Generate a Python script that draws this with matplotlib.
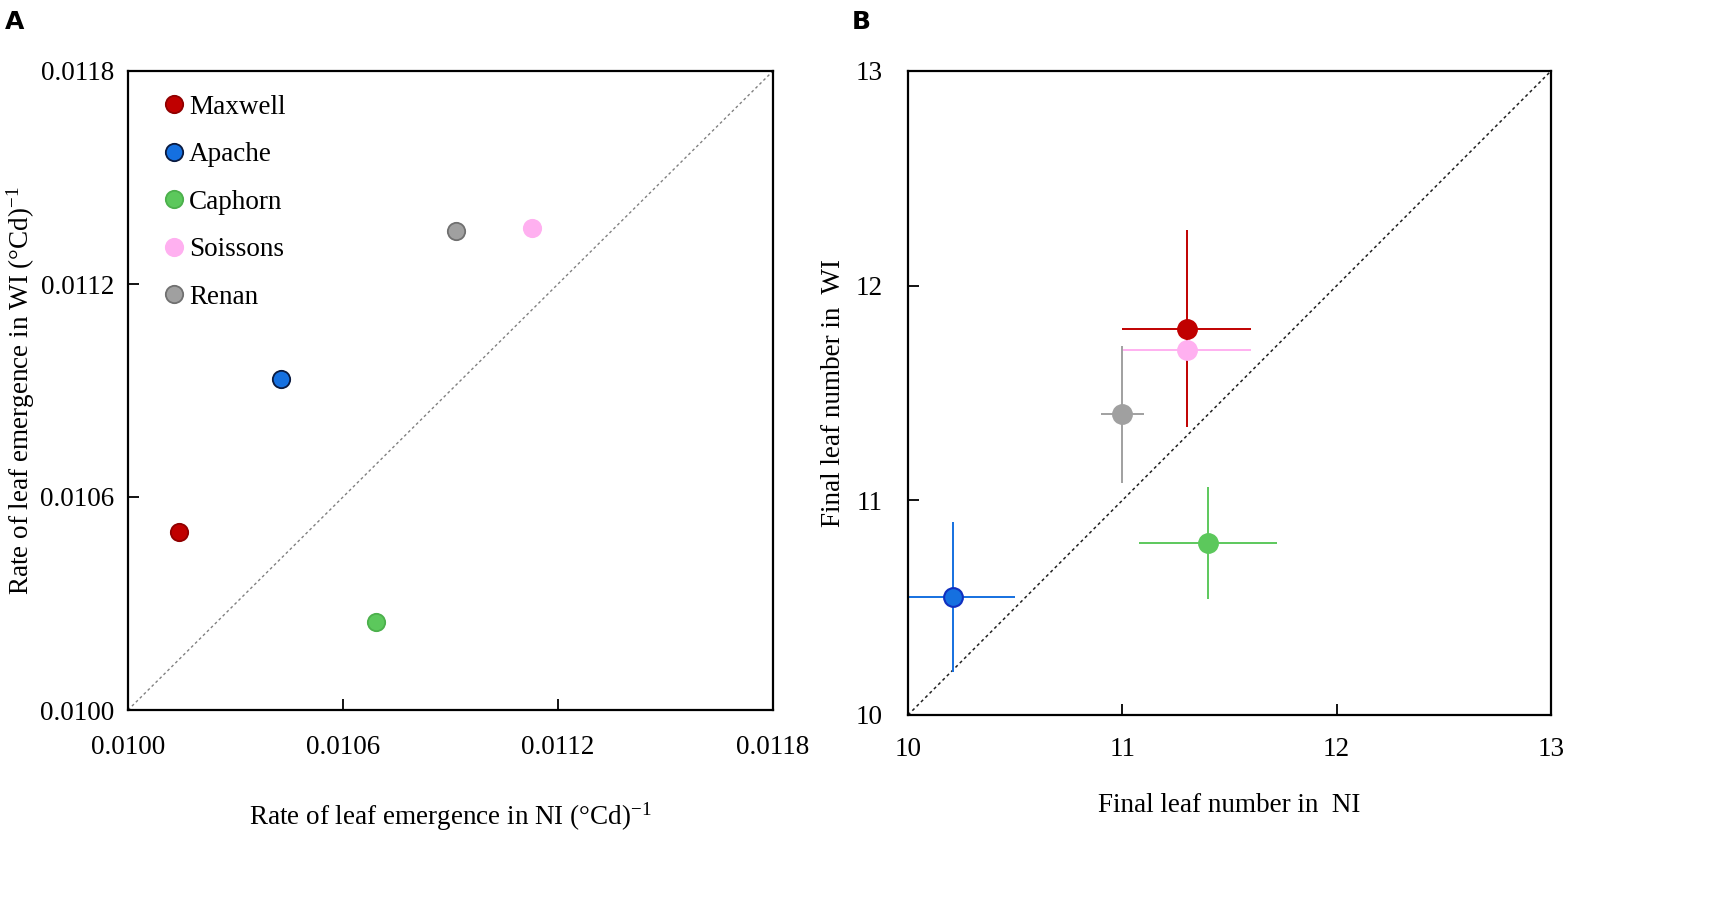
import matplotlib
matplotlib.use("Agg")
import matplotlib.pyplot as plt
from matplotlib.lines import Line2D

plt.rcParams['font.family'] = ['Liberation Serif', 'DejaVu Serif']
plt.rcParams['mathtext.fontset'] = 'custom'
plt.rcParams['mathtext.rm'] = 'Liberation Serif'
plt.rcParams['mathtext.it'] = 'Liberation Serif:italic'

# ---- data ----
cultivars = ["Maxwell", "Apache", "Caphorn", "Soissons", "Renan"]
colors = ["#C00000", "#1570E0", "#5CC85C", "#FFB0F0", "#A0A0A0"]
edges = ["#900000", "#0A1A40", "#4CB04C", "#FFB0F0", "#707070"]

# Panel A: rate of leaf emergence
rate_NI = [0.010142, 0.010427, 0.010692, 0.011127, 0.010915]
rate_WI = [0.010501, 0.010932, 0.010248, 0.011358, 0.011349]
a_ticks = [0.0100, 0.0106, 0.0112, 0.0118]
a_ticklabels = ["0.0100", "0.0106", "0.0112", "0.0118"]

# Panel B: final leaf number
fln_NI = [11.30, 10.21, 11.40, 11.30, 11.00]
fln_WI = [11.80, 10.55, 10.80, 11.70, 11.40]
fln_NI_err = [0.30, 0.29, 0.32, 0.30, 0.10]
fln_WI_err = [0.46, 0.35, 0.26, 0.00, 0.32]
b_ticks = [10, 11, 12, 13]

FS = 19.5

fig = plt.figure(figsize=(17.22, 9.23), dpi=100)
axA = fig.add_axes([128/1722, 1-710/923, 645/1722, 639/923])
axB = fig.add_axes([908/1722, 1-715/923, 643/1722, 644/923])

def style(ax, xpad, ypad):
    for s in ax.spines.values():
        s.set_linewidth(1.6)
        s.set_color('black')
    ax.tick_params(direction='in', length=8, width=1.3, labelsize=FS,
                   top=False, right=False)
    ax.tick_params(axis='x', pad=xpad)
    ax.tick_params(axis='y', pad=ypad)

# Panel A
axA.plot([a_ticks[0], a_ticks[-1]], [a_ticks[0], a_ticks[-1]],
         color='#808080', lw=1.0, ls=(0, (2, 2)), zorder=1)
for x, y, c, e in zip(rate_NI, rate_WI, colors, edges):
    axA.plot(x, y, 'o', ms=12.5, mfc=c, mec=e, mew=1.3, zorder=3)
axA.set_xlim(a_ticks[0], a_ticks[-1])
axA.set_ylim(a_ticks[0], a_ticks[-1])
axA.set_xticks(a_ticks)
axA.set_xticklabels(a_ticklabels)
axA.set_yticks(a_ticks)
axA.set_yticklabels(a_ticklabels)
style(axA, 18, 10)
axA.set_xlabel(r'Rate of leaf emergence in NI (°Cd)$^{-1}$', fontsize=FS, labelpad=29)
axA.set_ylabel(r'Rate of leaf emergence in WI (°Cd)$^{-1}$', fontsize=FS, labelpad=2)

handles = [Line2D([], [], ls='none', marker='o', ms=12.5, mfc=c, mec=e, mew=1.3)
           for c, e in zip(colors, edges)]
axA.legend(handles, cultivars, loc='upper left', bbox_to_anchor=(0.04, 0.98),
           frameon=False, fontsize=FS, handletextpad=0.2, labelspacing=0.83,
           handlelength=0.7, borderaxespad=0)

# Panel B
axB.plot([b_ticks[0], b_ticks[-1]], [b_ticks[0], b_ticks[-1]],
         color='#202020', lw=1.1, ls=(0, (2, 2)), zorder=1)
for x, y, xe, ye, c in zip(fln_NI, fln_WI, fln_NI_err, fln_WI_err, colors):
    axB.errorbar(x, y, xerr=xe if xe > 0 else None, yerr=ye if ye > 0 else None,
                 fmt='none', ecolor=c, elinewidth=1.4, capsize=0, zorder=2)
for x, y, c in zip(fln_NI, fln_WI, colors):
    mec = '#1030C0' if c == "#1570E0" else c
    axB.plot(x, y, 'o', ms=13.5, mfc=c, mec=mec, mew=1.5, zorder=4)
axB.set_xlim(b_ticks[0], b_ticks[-1])
axB.set_ylim(b_ticks[0], b_ticks[-1])
axB.set_xticks(b_ticks)
axB.set_yticks(b_ticks)
style(axB, 16, 18)
axB.set_xlabel('Final leaf number in  NI', fontsize=FS, labelpad=22)
axB.set_ylabel('Final leaf number in  WI', fontsize=FS, labelpad=7)

fig.text(5/1722, 1-22/923, 'A', fontsize=18, fontweight='bold', family='DejaVu Sans',
         va='center', ha='left')
fig.text(852/1722, 1-22/923, 'B', fontsize=18, fontweight='bold', family='DejaVu Sans',
         va='center', ha='left')

fig.savefig('out.png', dpi=100, facecolor='white')
